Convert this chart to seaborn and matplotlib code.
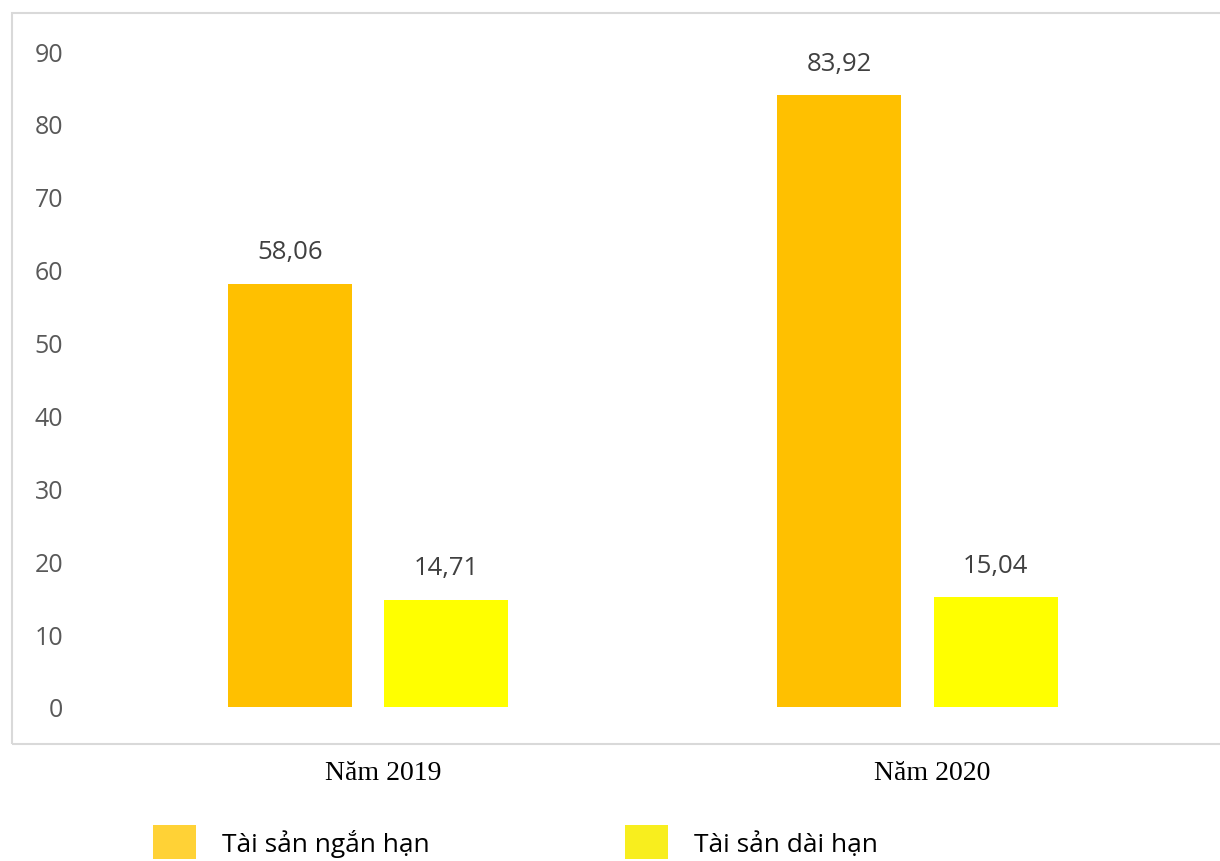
import matplotlib
matplotlib.use("Agg")
import matplotlib.pyplot as plt
from matplotlib.patches import Patch, Rectangle
from matplotlib.transforms import ScaledTranslation
import seaborn as sns
import pandas as pd

# Data
years = ["Năm 2019", "Năm 2020"]
series = ["Tài sản ngắn hạn", "Tài sản dài hạn"]
short_term = [58.06, 83.92]
long_term = [14.71, 15.04]
y_ticks = [0, 10, 20, 30, 40, 50, 60, 70, 80, 90]

bar_colors = ["#FFC000", "#FFFF00"]
legend_colors = ["#FFD236", "#F8EE1E"]

df = pd.DataFrame({
    "year": years * 2,
    "series": [series[0]] * 2 + [series[1]] * 2,
    "value": short_term + long_term,
})

sns.set_theme(style="white")
plt.rcParams["font.family"] = ["Open Sans", "DejaVu Sans"]

W, H = 1220, 862
fig = plt.figure(figsize=(W / 100, H / 100), dpi=100)

def fx(px):
    return px / W

def fy(py):
    return 1 - py / H

# plot area in pixel coordinates
ax_l, ax_r, ax_t, ax_b = 75, 1220, 52, 708
ax = fig.add_axes([fx(ax_l), fy(ax_b), fx(ax_r - ax_l), (ax_b - ax_t) / H])

sns.barplot(data=df, x="year", y="value", hue="series", order=years,
            hue_order=series, palette=bar_colors, width=0.57, gap=0.208,
            saturation=1, linewidth=0, ax=ax, legend=False)

# category centres at px 368 and 917.5
c0, step = 368, 549.5
ax.set_xlim((ax_l - c0) / step, (ax_r - c0) / step)
ax.set_ylim(0, 90)
ax.set_yticks(y_ticks)
ax.set_yticklabels([str(t) for t in y_ticks])
ax.set_xlabel("")
ax.set_ylabel("")
for s in ax.spines.values():
    s.set_visible(False)

ax.tick_params(axis="y", length=0, pad=8.6, labelsize=18, labelcolor="#595959")
ax.tick_params(axis="x", length=0, pad=38, labelsize=20, labelcolor="#000000")
shift = ScaledTranslation(0.15, 0, fig.dpi_scale_trans)
for lbl in ax.get_xticklabels():
    lbl.set_fontfamily(["Liberation Serif", "DejaVu Serif"])
    lbl.set_transform(lbl.get_transform() + shift)

for cont in ax.containers:
    ax.bar_label(cont, labels=[f"{v:.2f}".replace(".", ",") for v in cont.datavalues],
                 padding=14, fontsize=18.5, color="#404040")

# chart frame
fig.patches.append(Rectangle((fx(12), fy(745)), fx(1240 - 12), (745 - 14) / H,
                             transform=fig.transFigure, fill=False,
                             edgecolor="#D9D9D9", linewidth=1.5))

handles = [Patch(facecolor=c, edgecolor="none") for c in legend_colors]
fig.legend(handles, series, loc="upper left", bbox_to_anchor=(fx(153), fy(826)),
           ncol=2, frameon=False, borderpad=0, borderaxespad=0,
           handlelength=1.63, handleheight=1.63, handletextpad=1.0,
           columnspacing=7.39, fontsize=19, labelcolor="#000000")

fig.savefig("out.png", dpi=100)
